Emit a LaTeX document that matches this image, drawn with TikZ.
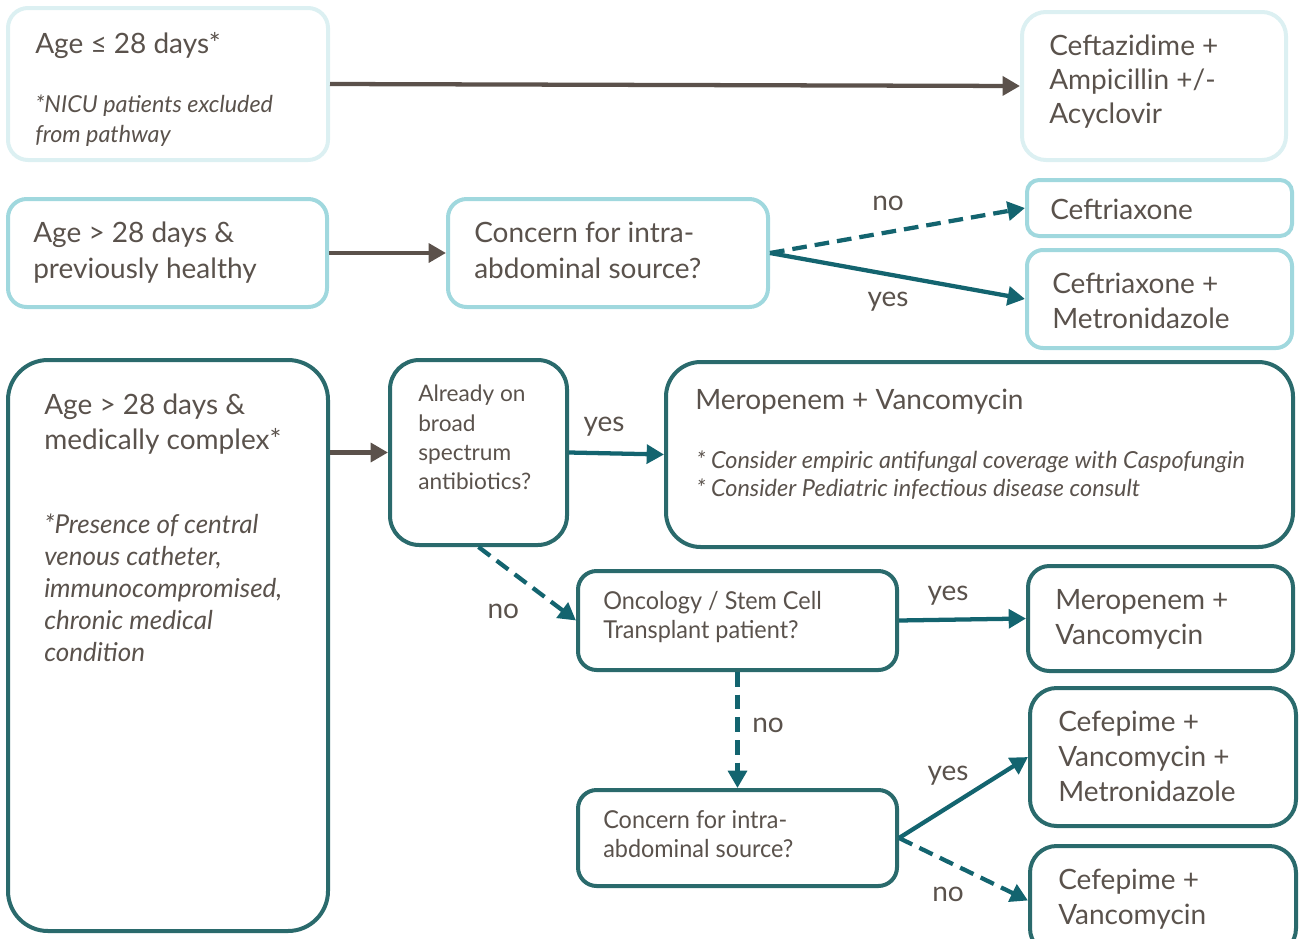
\documentclass[tikz,border=0pt]{standalone}
\usepackage{fontspec}
\setmainfont{Lato}
\newfontfamily\condfont[FakeStretch=0.95]{Lato}
\usetikzlibrary{arrows.meta,fit,positioning}
\definecolor{ink}{RGB}{90,82,76}
\definecolor{pale}{RGB}{220,240,242}
\definecolor{aqua}{RGB}{160,216,222}
\definecolor{deep}{RGB}{42,106,108}
\definecolor{arrowteal}{RGB}{19,100,111}
\definecolor{arrowgray}{RGB}{91,81,75}
\newcommand{\mainsize}{\fontsize{21}{26}\selectfont}
\newcommand{\notesize}{\fontsize{17.5}{22}\selectfont}
\newcommand{\smallsize}{\fontsize{17}{22}\selectfont}

\begin{document}
\begin{tikzpicture}[x=0.75pt,y=-0.75pt,>={Triangle[length=13pt,width=14pt]},
  box/.style={draw,inner sep=0pt,line width=3pt,rounded corners=14pt},
  palebox/.style={box,draw=pale},
  aquabox/.style={box,draw=aqua},
  deepbox/.style={box,draw=deep},
  txt/.style={anchor=north west,inner sep=0pt,align=left,text=ink,font=\mainsize},
  note/.style={txt,font=\notesize\itshape},
  small/.style={txt,font=\smallsize},
  cond/.style={txt,font=\fontsize{18.5}{22}\selectfont\condfont},
  lbl/.style={inner sep=0pt,text=ink,font=\mainsize},
  go/.style={->,line width=3.2pt,arrowgray},
  yes/.style={->,line width=3.2pt,arrowteal},
  no/.style={yes,dash pattern=on 11pt off 6pt}]
\useasboundingbox (0,0) rectangle (1300,939);
% neonates
\node[palebox,fit={(8,8) (328,160)},rounded corners=15pt] (a1) {};
\node[palebox,fit={(1022,12) (1286,160)},rounded corners=18pt] (a2) {};
\node[txt] (a1t) at (35,32) {Age ≤ 28 days*};
\node[note] (a1n) at (35,95) {*NICU patients excluded\\from pathway};
\node[txt,font=\fontsize{21}{25.5}\selectfont] (a2t) at (1049,35) {Ceftazidime +\\Ampicillin +/-\\Acyclovir};
\draw[go] (a1.east) -- (a2.west);

% previously healthy
\node[aquabox,fit={(8,199) (327,307)}] (b1) {};
\node[aquabox,fit={(448,199) (768,307)}] (b2) {};
\node[aquabox,fit={(1027,180) (1292,236)},rounded corners=9pt] (b3) {};
\node[aquabox,fit={(1027,250) (1292,348)},rounded corners=12pt] (b4) {};
\node[txt,font=\fontsize{21}{27}\selectfont] (b1t) at (33,222) {Age > 28 days \&\\previously healthy};
\node[txt,font=\fontsize{21}{27}\selectfont] (b2t) at (474,222) {Concern for intra-\\abdominal source?};
\node[txt] (b3t) at (1050,199) {Ceftriaxone};
\node[txt] (b4t) at (1052,273) {Ceftriaxone +\\Metronidazole};
\draw[go] (b1.east) -- (b2.west);
\draw[no] (b2.east) -- node[lbl,midway,shift={(-9.5,-27.5)}] (nob) {no} (b3.west);
\draw[yes] (b2.east) -- node[lbl,midway,shift={(-9.5,26)}] (yesb) {yes} (b4.west);

% medically complex
\node[deepbox,fit={(8,360) (328,931)},rounded corners=30pt] (c1) {};
\node[deepbox,fit={(390,360) (567,545)},rounded corners=22pt] (c2) {};
\node[deepbox,fit={(666,362) (1293,547)},rounded corners=26pt] (c3) {};
\node[txt] (c1t) at (44,394) {Age > 28 days \&\\medically complex*};
\node[note,font=\fontsize{19.5}{24}\selectfont\itshape] (c1n) at (44,514) {*Presence of central\\venous catheter,\\immunocompromised,\\chronic medical\\condition};
\node[small] (c2t) at (418,385) {Already on\\broad\\spectrum\\antibiotics?};
\node[txt] (c3t) at (695,389) {Meropenem + Vancomycin};
\node[note,font=\fontsize{17.6}{21}\selectfont\itshape] (c3n) at (696,451) {* Consider empiric antifungal coverage with Caspofungin\\* Consider Pediatric infectious disease consult};
\draw[go] (c1.east |- c2.west) -- (c2.west);
\draw[yes] (c2.east) -- node[lbl,midway,shift={(-12.5,-26.5)}] (yesc) {yes} (c3.west);

\node[deepbox,fit={(578,571) (897,670)}] (d1) {};
\node[deepbox,fit={(1028,566) (1293,671)},rounded corners=16pt] (d2) {};
\node[deepbox,fit={(578,790) (897,886)}] (d3) {};
\node[deepbox,fit={(1030,688) (1296,826)},rounded corners=20pt] (e1) {};
\node[deepbox,fit={(1030,846) (1296,955)},rounded corners=20pt] (e2) {};
\node[cond] (d1t) at (603,591) {Oncology / Stem Cell\\Transplant patient?};
\node[txt] (d2t) at (1055,589) {Meropenem +\\Vancomycin};
\node[cond] (d3t) at (603,810) {Concern for intra-\\abdominal source?};
\node[txt] (e1t) at (1058,711) {Cefepime +\\Vancomycin +\\Metronidazole};
\node[txt] (e2t) at (1058,869) {Cefepime +\\Vancomycin};
\draw[no] (c2.south) -- node[lbl,midway,shift={(-24,28)}] (noc) {no} (d1.west);
\draw[yes] (d1.east) -- node[lbl,midway,shift={(-14.5,-23.5)}] (yesd) {yes} (d2.west);
\draw[no] (d1.south) -- node[lbl,midway,shift={(30.5,-5)}] (nod) {no} (d3.north);
\draw[yes] (d3.east) -- node[lbl,midway,shift={(-15.5,-21.5)}] (yese) {yes} (e1.west);
\draw[no] (d3.east) -- node[lbl,midway,shift={(-15.5,25)}] (noe) {no} (e2.west);
\end{tikzpicture}
\end{document}
